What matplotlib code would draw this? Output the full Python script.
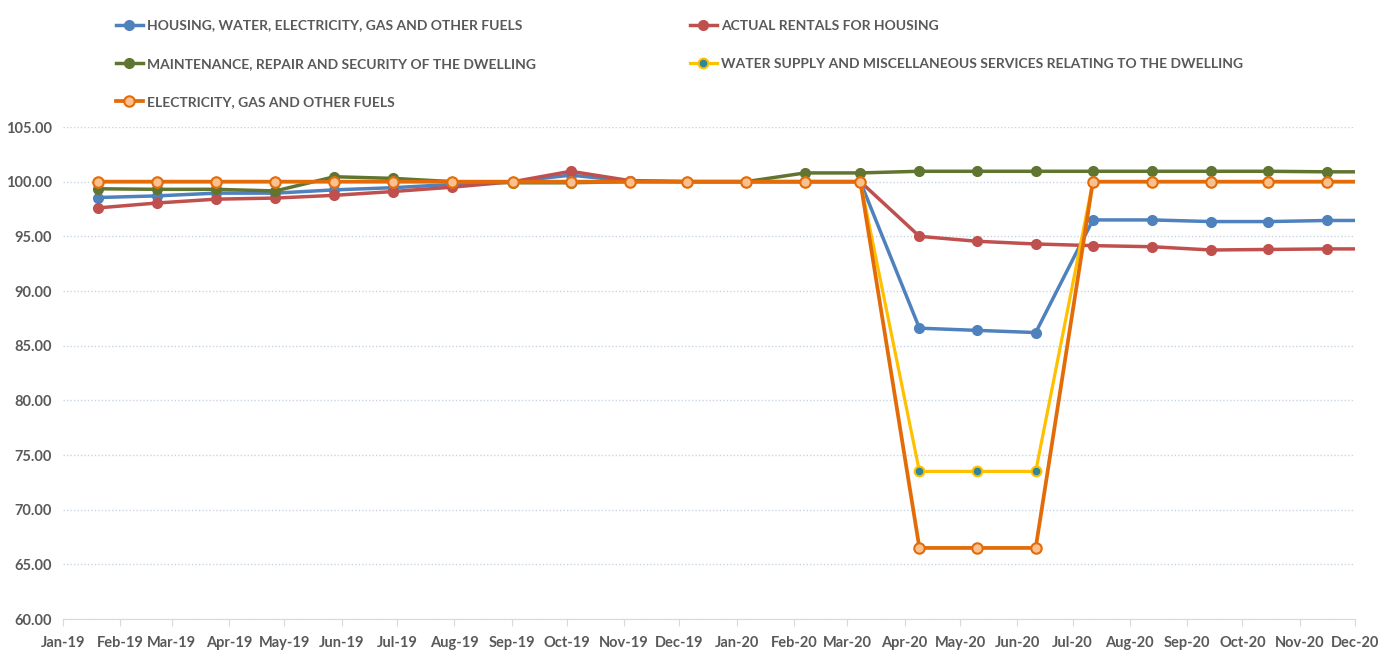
import matplotlib
matplotlib.use("Agg")
import matplotlib.pyplot as plt
import matplotlib.dates as mdates
import numpy as np
import pandas as pd

plt.rcParams["font.family"] = ["Lato", "DejaVu Sans"]

# point dates as they sit on the date axis
dates = pd.to_datetime([
    "2019-01-20", "2019-02-21", "2019-03-25", "2019-04-26", "2019-05-28",
    "2019-06-29", "2019-07-31", "2019-09-02", "2019-10-03", "2019-11-04",
    "2019-12-05", "2020-01-06", "2020-02-07", "2020-03-08", "2020-04-09",
    "2020-05-10", "2020-06-11", "2020-07-12", "2020-08-13", "2020-09-14",
    "2020-10-15", "2020-11-16", "2020-12-18",
])

housing = [98.55, 98.70, 98.95, 98.95, 99.25, 99.45, 99.75, 100.00, 100.60, 100.05,
           100.00, 100.00, 100.00, 100.00, 86.60, 86.40, 86.20, 96.50, 96.50, 96.35,
           96.35, 96.45, 96.45]
rentals = [97.60, 98.05, 98.40, 98.50, 98.75, 99.10, 99.50, 100.00, 100.95, 100.10,
           100.00, 100.00, 100.00, 100.00, 95.00, 94.55, 94.30, 94.15, 94.05, 93.75,
           93.80, 93.85, 93.85]
maintenance = [99.35, 99.30, 99.30, 99.15, 100.45, 100.30, 100.00, 99.90, 99.90, 100.00,
               100.00, 100.00, 100.80, 100.80, 100.95, 100.95, 100.95, 100.95, 100.95, 100.95,
               100.95, 100.90, 100.90]
water = [100.0] * 14 + [73.5, 73.5, 73.5] + [100.0] * 6
electricity = [100.0] * 14 + [66.5, 66.5, 66.5] + [100.0] * 6

labels = [
    "HOUSING, WATER, ELECTRICITY, GAS AND OTHER FUELS",
    "ACTUAL RENTALS FOR HOUSING",
    "MAINTENANCE, REPAIR AND SECURITY OF THE DWELLING",
    "WATER SUPPLY AND MISCELLANEOUS SERVICES RELATING TO THE DWELLING",
    "ELECTRICITY, GAS AND OTHER FUELS",
]

TXT = "#595959"

fig = plt.figure(figsize=(13.78, 6.5), dpi=100)
ax = fig.add_axes([63 / 1378, 1 - 619 / 650, (1355 - 63) / 1378, (619 - 127) / 650])

h1, = ax.plot(dates, housing, color="#4F81BD", lw=2.5, marker="o", ms=7,
              mfc="#4F81BD", mec="#4F81BD", label=labels[0])
h2, = ax.plot(dates, rentals, color="#C0504D", lw=2.5, marker="o", ms=7,
              mfc="#C0504D", mec="#C0504D", label=labels[1])
h3, = ax.plot(dates, maintenance, color="#5F7530", lw=2.5, marker="o", ms=7,
              mfc="#5F7530", mec="#5F7530", label=labels[2])
h4, = ax.plot(dates, water, color="#FFC000", lw=2.3, marker="o", ms=7,
              mfc="#31859C", mec="#FFC000", mew=1.5, label=labels[3])
h5, = ax.plot(dates, electricity, color="#E36C09", lw=2.7, marker="o", ms=7.5,
              mfc="#FAC090", mec="#E36C09", mew=1.5, label=labels[4])

ax.set_xlim(pd.Timestamp("2019-01-01"), pd.Timestamp("2020-12-01"))
ax.set_ylim(60, 105)
ax.set_yticks(np.arange(60, 105.1, 5))
ax.yaxis.set_major_formatter(matplotlib.ticker.FormatStrFormatter("%.2f"))
ax.xaxis.set_major_locator(mdates.MonthLocator())
ax.xaxis.set_major_formatter(mdates.DateFormatter("%b-%y"))

ax.grid(axis="y", color="#C9D5E3", lw=1.0, ls=(0, (1, 1.5)))
ax.set_axisbelow(True)
for s in ["top", "right", "left"]:
    ax.spines[s].set_visible(False)
ax.spines["bottom"].set_color("#D9D9D9")
ax.tick_params(axis="y", length=0, labelsize=10.5, labelcolor=TXT, pad=8)
ax.tick_params(axis="x", length=5, color="#D9D9D9", labelsize=10.5, labelcolor=TXT, pad=7)
for t in ax.get_xticklabels() + ax.get_yticklabels():
    t.set_fontweight("bold")

leg_kw = dict(loc="upper left", frameon=False, labelcolor=TXT, handlelength=2.0,
              handletextpad=0.25, labelspacing=1.9, borderaxespad=0,
              prop=dict(family=["Lato", "DejaVu Sans"], size=10, weight="bold"))
fig.legend(handles=[h1, h3, h5], bbox_to_anchor=(110 / 1378, 1 - 14 / 650), **leg_kw)
fig.legend(handles=[h2, h4], bbox_to_anchor=(684 / 1378, 1 - 14 / 650), **leg_kw)

fig.savefig("out.png", dpi=100)
